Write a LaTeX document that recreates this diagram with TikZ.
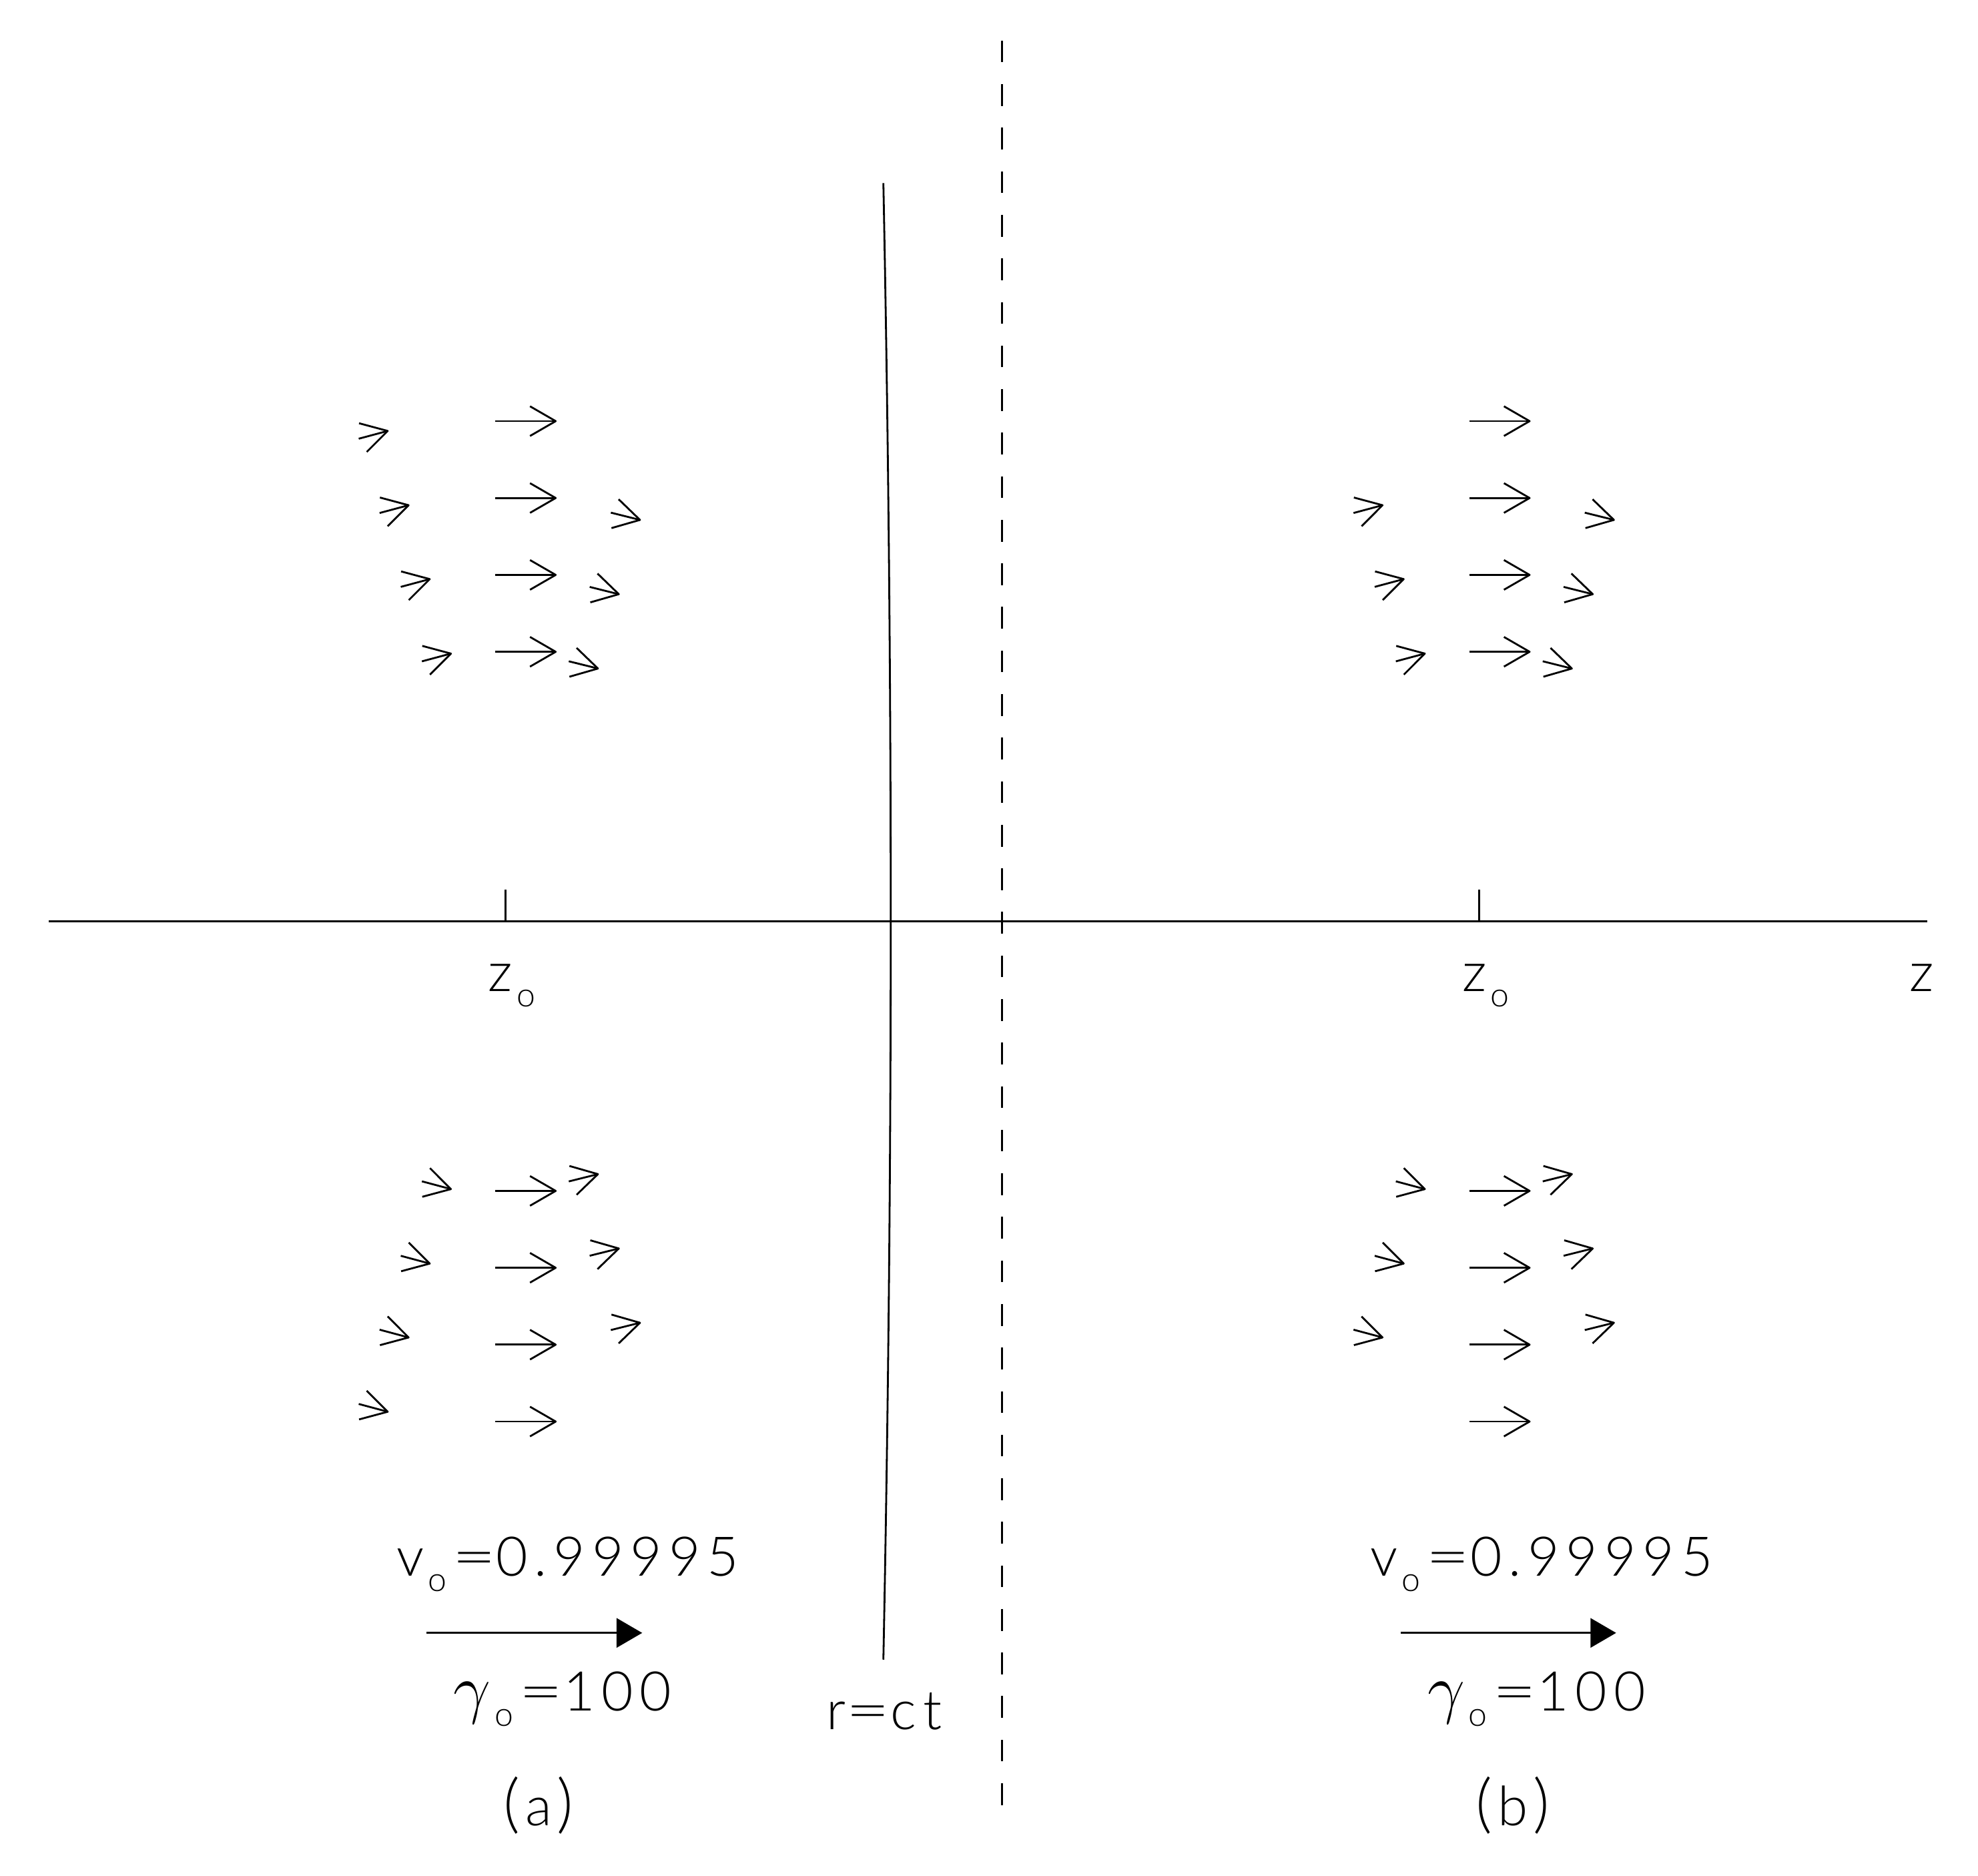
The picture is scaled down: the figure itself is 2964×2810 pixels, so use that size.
\documentclass[tikz,border=0pt]{standalone}
\usepackage{graphicx}
\usepackage{fontspec}
\setmainfont{Lato Light}[LetterSpace=12]
\usetikzlibrary{arrows.meta}
\newcommand\subo[1]{\kern1.5pt\raisebox{-5.8pt}{\fontsize{12.5}{14}\selectfont #1}\kern2pt}
\newcommand\weq{\scalebox{1.4}[1]{=}}
\newcommand\bigpar[1]{{\fontsize{24}{28}\selectfont #1}}
\begin{document}
\begin{tikzpicture}[x=0.25pt,y=-0.25pt,
  ln/.style={line width=0.7pt},
  fld/.pic={\draw[ln] (-#1,0) -- (0,0); \draw[ln,line join=round] (-38.5,22.25) -- (0,0) -- (-38.5,-22.25);},
  lbl/.style={inner sep=0pt, anchor=base, font=\fontsize{20.5}{24}\selectfont},
  vel/.style={ln,-{Triangle[length=9.6pt,width=11pt]}}]
\useasboundingbox (0,0) rectangle (2964,2810);

% axis, ticks
\coordinate (axL) at (73.3,1380.5);
\coordinate (axR) at (2888.3,1380.5);
\draw[ln] (axL) -- (axR);
\coordinate (tkA1) at (757.3,1333.3); \coordinate (tkA2) at (757.3,1380.5);
\coordinate (tkB1) at (2216.7,1333.3); \coordinate (tkB2) at (2216.7,1380.5);
\draw[ln] (tkA1) -- (tkA2);
\draw[ln] (tkB1) -- (tkB2);

% light front r=ct
\coordinate (fT) at (1323.7,274.3);
\coordinate (fB) at (1323.7,2486.7);
\draw[ln] (fT) .. controls (1338.4,1011.4) and (1338.4,1749.6) .. (fB);

% dashed line
\coordinate (dT) at (1501.7,60.8);
\coordinate (dB) at (1501.7,2706);
\draw[ln,dash pattern=on 8.16pt off 8.16pt] (dT) -- (dB);

% panel (a) field arrows
\foreach \y in {631,746.2,861.4,976.6,1784.4,1899.6,2014.8,2130}
  \pic at (832.7,\y) {fld=90.4};
\foreach \x/\y in {581/645.7,612.3/757,644/867.7,675.7/979.3}
  \pic[rotate=15] at (\x,\y) {fld=45};
\foreach \x/\y in {959/779,927.3/890.3,896/1001.7}
  \pic[rotate=-14] at (\x,\y) {fld=45};
\foreach \x/\y in {581/2115.3,612.3/2004,644/1893.3,675.7/1781.7}
  \pic[rotate=-15] at (\x,\y) {fld=45};
\foreach \x/\y in {959/1982,927.3/1870.7,896/1759.3}
  \pic[rotate=14] at (\x,\y) {fld=45};

% panel (b) field arrows
\begin{scope}[shift={(1459.4,0)}]
\foreach \y in {631,746.2,861.4,976.6,1784.4,1899.6,2014.8,2130}
  \pic at (832.7,\y) {fld=90.4};
\foreach \x/\y in {612.3/757,644/867.7,675.7/979.3}
  \pic[rotate=15] at (\x,\y) {fld=45};
\foreach \x/\y in {959/779,927.3/890.3,896/1001.7}
  \pic[rotate=-14] at (\x,\y) {fld=45};
\foreach \x/\y in {612.3/2004,644/1893.3,675.7/1781.7}
  \pic[rotate=-15] at (\x,\y) {fld=45};
\foreach \x/\y in {959/1982,927.3/1870.7,896/1759.3}
  \pic[rotate=14] at (\x,\y) {fld=45};
\end{scope}

% labels
\node[lbl] (zA) at (771,1485) {z\subo{o}};
\node[lbl] (zB) at (2230.4,1485) {z\subo{o}};
\node[lbl] (zAx) at (2879.6,1485.3) {z};

\node[lbl] (vA) at (850.6,2361) {v\subo{o}\weq0.99995};
\node[lbl] (vB) at (2310,2361) {v\subo{o}\weq0.99995};
\coordinate (vAt) at (639.2,2446.7); \coordinate (vAh) at (962.3,2446.7);
\coordinate (vBt) at (2098.6,2446.7); \coordinate (vBh) at (2421.7,2446.7);
\draw[vel] (vAt) -- (vAh);
\draw[vel] (vBt) -- (vBh);
\node[lbl] (gA) at (843,2563.3) {{\fontsize{24}{28}\selectfont$\gamma$}\subo{o}\weq100};
\node[lbl] (gB) at (2302.4,2563.3) {{\fontsize{24}{28}\selectfont$\gamma$}\subo{o}\weq100};
\node[lbl] (rct) at (1325,2591.7) {r\weq ct};
\node[lbl] (pa) at (807,2735.7) {\bigpar{(}\kern2pt a\kern2pt\bigpar{)}};
\node[lbl] (pb) at (2266.8,2735.7) {\bigpar{(}\kern2pt b\kern2pt\bigpar{)}};
\end{tikzpicture}
\end{document}
